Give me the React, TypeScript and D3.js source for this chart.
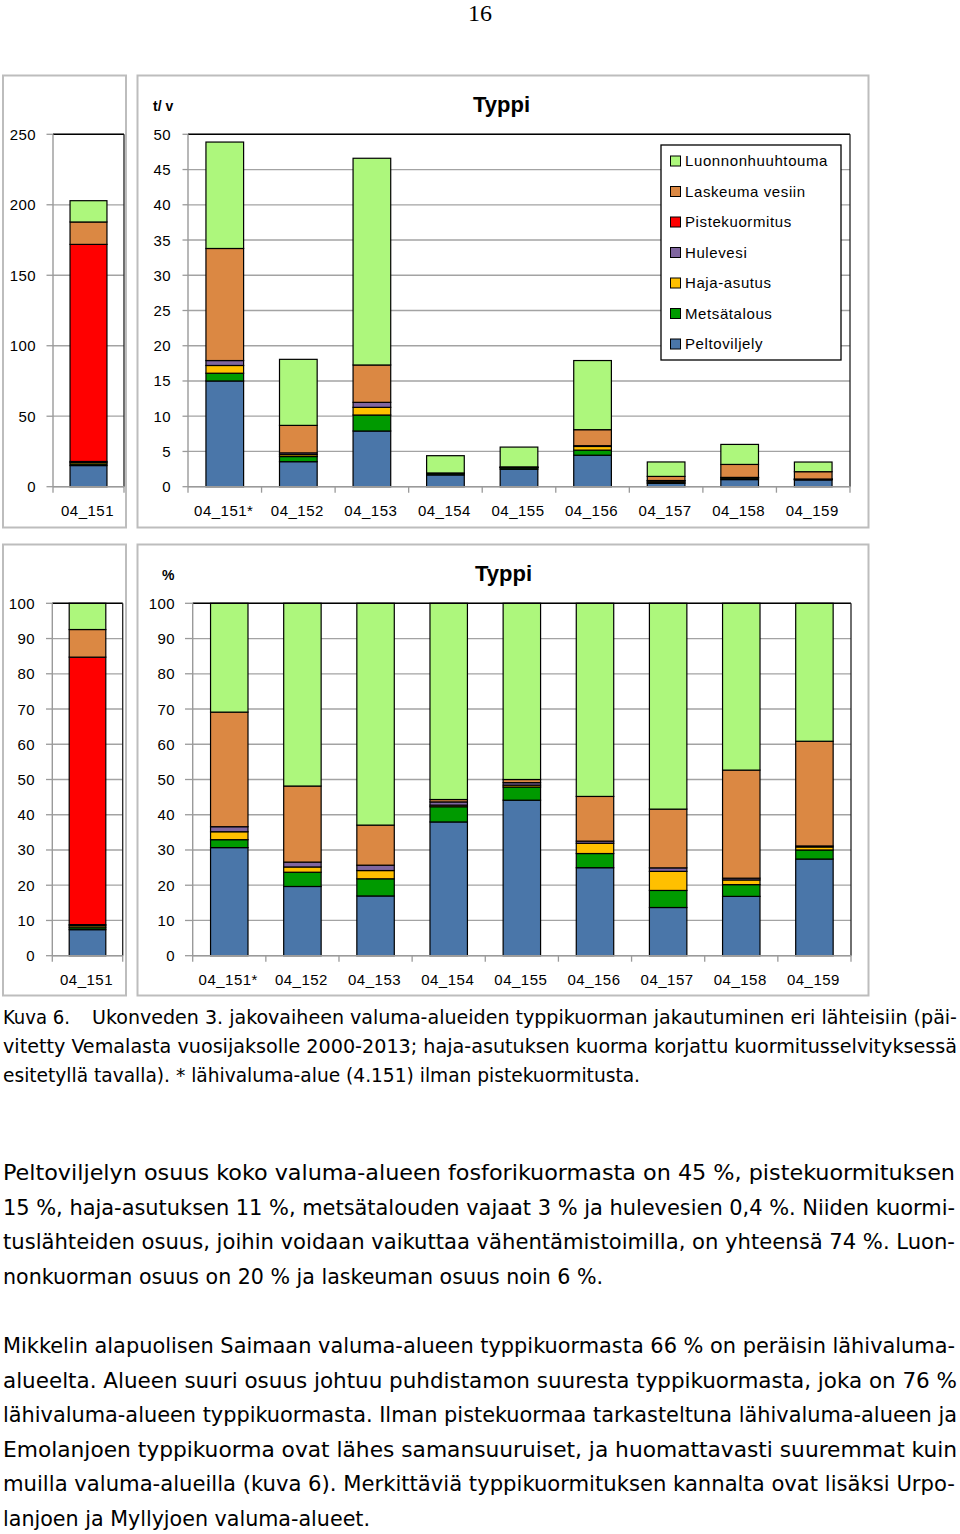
import React from 'react';
import * as d3 from 'd3';

// ---- DATA ----
const seriesKeys = ['Peltoviljely', 'Metsätalous', 'Haja-asutus', 'Hulevesi', 'Pistekuormitus', 'Laskeuma vesiin', 'Luonnonhuuhtouma'];
const seriesColors = ['#4a76a9', '#009a00', '#ffc000', '#8066a0', '#ff0000', '#db8843', '#adf77c'];

const categories = ['04_151*', '04_152', '04_153', '04_154', '04_155', '04_156', '04_157', '04_158', '04_159'];
const peltoviljely = [15.0, 3.55, 7.9, 1.67, 2.48, 4.47, 0.48, 1.01, 0.96];
const metsatalous = [1.1, 0.73, 2.27, 0.19, 0.21, 0.72, 0.17, 0.2, 0.09];
const hajaAsutus = [1.1, 0.27, 1.09, 0.02, 0.03, 0.52, 0.19, 0.08, 0.03];
const hulevesi = [0.7, 0.25, 0.71, 0.04, 0.04, 0.11, 0.035, 0.03, 0.01];
const pistekuormitus = [0, 0, 0, 0, 0, 0, 0, 0, 0];
const laskeumaVesiin = [15.9, 3.9, 5.3, 0.03, 0.05, 2.27, 0.585, 1.84, 1.04];
const luonnonhuuhtouma = [15.1, 9.37, 29.33, 2.45, 2.81, 9.81, 2.05, 2.84, 1.37];

// 04_151 including point load, values in seriesKeys order
const subareaCategory = ['04_151'];
const subarea151 = [15.0, 1.1, 1.1, 0.7, 154, 15.9, 15.1];

const loadTicks = [0, 5, 10, 15, 20, 25, 30, 35, 40, 45, 50];
const subareaTicks = [0, 50, 100, 150, 200, 250];
const percentTicks = [0, 10, 20, 30, 40, 50, 60, 70, 80, 90, 100];

const mainRows = categories.map((c, i) => {
  const vals = [peltoviljely[i], metsatalous[i], hajaAsutus[i], hulevesi[i], pistekuormitus[i], laskeumaVesiin[i], luonnonhuuhtouma[i]];
  const r: any = { cat: c };
  seriesKeys.forEach((k, j) => (r[k] = vals[j]));
  return r;
});
const subRows = subareaCategory.map((c) => {
  const r: any = { cat: c };
  seriesKeys.forEach((k, j) => (r[k] = subarea151[j]));
  return r;
});

const captionLines = [
  { t: 'Kuva 6.', x: 3, w: 67 },
  { t: 'Ukonveden 3. jakovaiheen valuma-alueiden typpikuorman jakautuminen eri lähteisiin (päi-', x: 92, w: 865 },
  { t: 'vitetty Vemalasta vuosijaksolle 2000-2013; haja-asutuksen kuorma korjattu kuormitusselvityksessä', x: 3, w: 954 },
  { t: 'esitetyllä tavalla). * lähivaluma-alue (4.151) ilman pistekuormitusta.', x: 3, w: 637 },
];
const captionRows = [0, 0, 1, 2];

const bodyLines = [
  { t: 'Peltoviljelyn osuus koko valuma-alueen fosforikuormasta on 45 %, pistekuormituksen', w: 952 },
  { t: '15 %, haja-asutuksen 11 %, metsätalouden vajaat 3 % ja hulevesien 0,4 %. Niiden kuormi-', w: 952 },
  { t: 'tuslähteiden osuus, joihin voidaan vaikuttaa vähentämistoimilla, on yhteensä 74 %. Luon-', w: 952 },
  { t: 'nonkuorman osuus on 20 % ja laskeuman osuus noin 6 %.', w: 600 },
  { t: 'Mikkelin alapuolisen Saimaan valuma-alueen typpikuormasta 66 % on peräisin lähivaluma-', w: 952 },
  { t: 'alueelta. Alueen suuri osuus johtuu puhdistamon suuresta typpikuormasta, joka on 76 %', w: 954 },
  { t: 'lähivaluma-alueen typpikuormasta. Ilman pistekuormaa tarkasteltuna lähivaluma-alueen ja', w: 954 },
  { t: 'Emolanjoen typpikuorma ovat lähes samansuuruiset, ja huomattavasti suuremmat kuin', w: 954 },
  { t: 'muilla valuma-alueilla (kuva 6). Merkittäviä typpikuormituksen kannalta ovat lisäksi Urpo-', w: 952 },
  { t: 'lanjoen ja Myllyjoen valuma-alueet.', w: 367 },
];
const bodyBaselines = [1180, 1214.5, 1249, 1283.5, 1353, 1387.5, 1422, 1456.5, 1491, 1525.5];

const chartFont = "'Liberation Sans', Arial, Helvetica, sans-serif";
const narrowFont = "'Liberation Sans Narrow', 'DejaVu Sans Condensed', 'Arial Narrow', sans-serif";

type Plot = { left: number; right: number; top: number; bottom: number };

function StackedChart(props: {
  plot: Plot;
  cats: string[];
  rows: any[];
  ticks: number[];
  yMax: number;
  expand: boolean;
  gap: number;
  labelRight: number;
  tickLeft: number;
  labelBaseline: number;
}) {
  const { plot, cats, rows, ticks, yMax, expand, gap, labelRight, tickLeft, labelBaseline } = props;
  const x = d3.scaleBand<string>().domain(cats).range([plot.left, plot.right]).paddingInner(gap).paddingOuter(gap / 2);
  const y = d3.scaleLinear().domain([0, yMax]).range([plot.bottom, plot.top]);
  const gen = d3.stack<any>().keys(seriesKeys);
  if (expand) gen.offset(d3.stackOffsetExpand);
  const layers = gen(rows);
  const yv = (v: number) => y(expand ? v * 100 : v);
  const step = x.step();
  const bounds = d3.range(cats.length + 1).map((i) => plot.left + i * step);
  return (
    <g>
      {ticks.map((t) => (
        <line key={'g' + t} x1={plot.left} x2={plot.right} y1={y(t)} y2={y(t)} stroke="#a3a3a3" strokeWidth={1.3} />
      ))}
      {layers.map((layer, li) => (
        <g key={layer.key}>
          {layer.map((d, di) => {
            const y0 = yv(d[0]);
            const y1 = yv(d[1]);
            if (Math.abs(y0 - y1) < 0.01) return null;
            return (
              <rect
                key={di}
                x={x(d.data.cat)}
                width={x.bandwidth()}
                y={y1}
                height={y0 - y1}
                fill={seriesColors[li]}
                stroke="#000"
                strokeWidth={1.2}
              />
            );
          })}
        </g>
      ))}
      {/* plot border top/right */}
      <line x1={plot.left} x2={plot.right} y1={plot.top} y2={plot.top} stroke="#000" strokeWidth={1.5} />
      <line x1={plot.right} x2={plot.right} y1={plot.top} y2={plot.bottom} stroke="#222" strokeWidth={1.3} />
      {/* y axis */}
      <line x1={plot.left} x2={plot.left} y1={plot.top} y2={plot.bottom} stroke="#9a9a9a" strokeWidth={1.4} />
      {ticks.map((t) => (
        <g key={'t' + t}>
          <line x1={tickLeft} x2={plot.left} y1={y(t)} y2={y(t)} stroke="#9a9a9a" strokeWidth={1.3} />
          <text x={labelRight} y={y(t) + 5.5} textAnchor="end" fontSize={15} fontFamily={chartFont} letterSpacing={0.4} fill="#000">
            {t}
          </text>
        </g>
      ))}
      {/* x axis */}
      <line x1={plot.left} x2={plot.right} y1={plot.bottom} y2={plot.bottom} stroke="#9a9a9a" strokeWidth={1.4} />
      {bounds.map((b, i) => (
        <line key={'b' + i} x1={b} x2={b} y1={plot.bottom} y2={plot.bottom + 6} stroke="#9a9a9a" strokeWidth={1.3} />
      ))}
      {cats.map((c) => (
        <text
          key={'c' + c}
          x={(x(c) as number) + x.bandwidth() / 2 - 1}
          y={labelBaseline}
          textAnchor="middle"
          fontSize={15}
          fontFamily={chartFont}
          letterSpacing={0.5}
          fill="#000"
        >
          {c}
        </text>
      ))}
    </g>
  );
}

function Legend() {
  const order = [...seriesKeys].reverse();
  const colors = [...seriesColors].reverse();
  return (
    <g>
      <rect x={661} y={145} width={180} height={215} fill="#fff" stroke="#000" strokeWidth={1.3} />
      {order.map((k, i) => {
        const cy = 161 + i * 30.5;
        return (
          <g key={k}>
            <rect x={670.5} y={cy - 5} width={10} height={10} fill={colors[i]} stroke="#000" strokeWidth={1} />
            <text x={685} y={cy + 5.3} fontSize={15} fontFamily={chartFont} letterSpacing={0.6} fill="#000">
              {k}
            </text>
          </g>
        );
      })}
    </g>
  );
}

export default function App() {
  const topPlot = { top: 134.3, bottom: 486.7 };
  const botPlot = { top: 603.3, bottom: 955.7 };
  return (
    <svg width={960} height={1534} style={{ position: 'absolute', left: 0, top: 0, background: '#fff' }}>
      <rect x={0} y={0} width={960} height={1534} fill="#fff" />
      <text x={480} y={21} textAnchor="middle" fontSize={24} fontFamily="'Liberation Serif', 'Times New Roman', serif" fill="#000">
        16
      </text>

      {/* frames */}
      <rect x={3} y={75.5} width={123} height={452} fill="none" stroke="#bdbdbd" strokeWidth={2} />
      <rect x={137.5} y={75.5} width={731} height={452} fill="none" stroke="#bdbdbd" strokeWidth={2} />
      <rect x={3} y={544.5} width={123} height={451} fill="none" stroke="#bdbdbd" strokeWidth={2} />
      <rect x={137.5} y={544.5} width={731} height={451} fill="none" stroke="#bdbdbd" strokeWidth={2} />

      {/* top row */}
      <StackedChart
        plot={{ left: 53, right: 124, ...topPlot }}
        cats={subareaCategory}
        rows={subRows}
        ticks={subareaTicks}
        yMax={250}
        expand={false}
        gap={0.48}
        labelRight={36}
        tickLeft={46.5}
        labelBaseline={516}
      />
      <StackedChart
        plot={{ left: 188, right: 850, ...topPlot }}
        cats={categories}
        rows={mainRows}
        ticks={loadTicks}
        yMax={50}
        expand={false}
        gap={0.488}
        labelRight={171}
        tickLeft={182.5}
        labelBaseline={516}
      />
      <text x={153} y={111} fontSize={14} fontWeight="bold" fontFamily={chartFont} fill="#000">t/ v</text>
      <text x={473} y={112} fontSize={22} fontWeight="bold" fontFamily={chartFont} fill="#000">Typpi</text>
      <Legend />

      {/* bottom row */}
      <StackedChart
        plot={{ left: 52.3, right: 122.7, ...botPlot }}
        cats={subareaCategory}
        rows={subRows}
        ticks={percentTicks}
        yMax={100}
        expand={true}
        gap={0.48}
        labelRight={35}
        tickLeft={46}
        labelBaseline={985}
      />
      <StackedChart
        plot={{ left: 192.7, right: 851, ...botPlot }}
        cats={categories}
        rows={mainRows}
        ticks={percentTicks}
        yMax={100}
        expand={true}
        gap={0.488}
        labelRight={175}
        tickLeft={185}
        labelBaseline={985}
      />
      <text x={162} y={580} fontSize={14} fontWeight="bold" fontFamily={chartFont} fill="#000">%</text>
      <text x={475} y={581} fontSize={22} fontWeight="bold" fontFamily={chartFont} fill="#000">Typpi</text>

      {/* caption */}
      {captionLines.map((l, i) => (
        <text
          key={'cap' + i}
          x={l.x}
          y={1024 + captionRows[i] * 29}
          fontSize={19}
          fontFamily={narrowFont}
          textLength={l.w}
          lengthAdjust="spacingAndGlyphs"
          fill="#000"
        >
          {l.t}
        </text>
      ))}

      {/* body */}
      {bodyLines.map((l, i) => (
        <text
          key={'b' + i}
          x={3}
          y={bodyBaselines[i]}
          fontSize={22}
          fontFamily={narrowFont}
          textLength={l.w}
          lengthAdjust="spacingAndGlyphs"
          fill="#000"
        >
          {l.t}
        </text>
      ))}
    </svg>
  );
}
